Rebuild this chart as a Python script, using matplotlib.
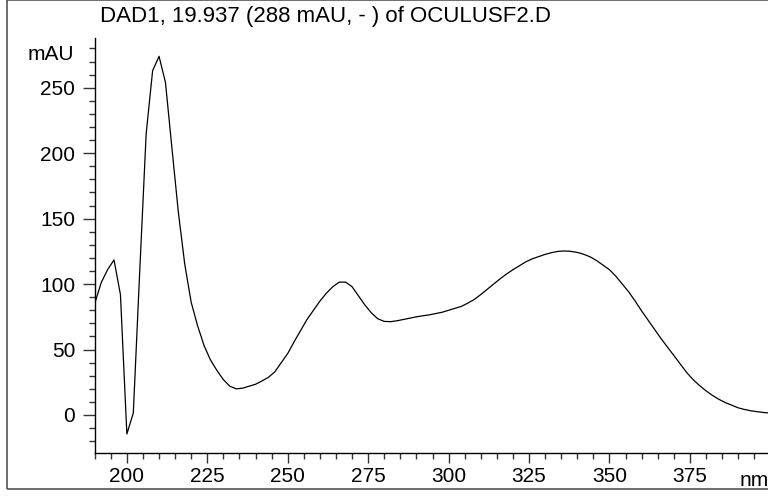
import matplotlib
matplotlib.use('Agg')
import matplotlib.pyplot as plt
from matplotlib.patches import Rectangle
from matplotlib.ticker import MultipleLocator

plt.rcParams['font.family'] = ['Liberation Sans', 'DejaVu Sans']

# Spectre UV du pic à 19.937 min
wavelength = [190, 192, 194, 196, 198, 200, 202, 204, 206, 208, 210, 212, 214, 216, 218,
              220, 222, 224, 226, 228, 230, 232, 234, 236, 238, 240, 242, 244, 246, 248,
              250, 252, 254, 256, 258, 260, 262, 264, 266, 268, 270, 272, 274, 276, 278,
              280, 282, 284, 286, 288, 290, 292, 294, 296, 298, 300, 302, 304, 306, 308,
              310, 312, 314, 316, 318, 320, 322, 324, 326, 328, 330, 332, 334, 336, 338,
              340, 342, 344, 346, 348, 350, 352, 354, 356, 358, 360, 362, 364, 366, 368,
              370, 372, 374, 376, 378, 380, 382, 384, 386, 388, 390, 392, 394, 396, 398, 400]
absorbance = [85, 101, 111, 118.5, 92, -14.5, 1.5, 110, 215, 263, 274, 254, 204, 155, 115,
              86, 68, 53, 42, 34, 27, 22, 20, 20.5, 22, 23.5, 26, 28.8, 33, 40,
              47, 56, 64.5, 73, 80, 87, 93, 98, 101.5, 101.5, 98, 91, 84, 78, 73.5,
              71.5, 71.3, 72, 73, 74, 75, 75.8, 76.5, 77.5, 78.5, 80, 81.5, 83, 85.5, 88.3,
              92, 96, 100, 104, 107.7, 111, 114, 117, 119.3, 121, 122.7, 124, 125, 125.3, 125,
              124.2, 122.8, 120.8, 118, 114.5, 111, 106, 100, 94, 87, 79.5, 72.5, 65.5, 58.5, 52,
              45.5, 39, 32.5, 27, 22.5, 18.5, 15, 12, 9.5, 7.5, 5.5, 4.2, 3.2, 2.5, 1.9, 1.5]

title = 'DAD1, 19.937 (288 mAU, - ) of OCULUSF2.D'

fig = plt.figure(figsize=(7.68, 4.97), dpi=100)
ax = fig.add_axes([94.7 / 768, 1 - 452.7 / 497, 675.6 / 768, 414.7 / 497])

ax.plot(wavelength, absorbance, color='black', lw=0.9)

ax.set_xlim(190, 400)
ax.set_ylim(-28.8, 288)

ax.spines['top'].set_visible(False)
ax.spines['right'].set_visible(False)
for s in ('left', 'bottom'):
    ax.spines[s].set_linewidth(1.0)
    ax.spines[s].set_color('black')

ax.xaxis.set_major_locator(MultipleLocator(25))
ax.xaxis.set_minor_locator(MultipleLocator(5))
ax.yaxis.set_major_locator(MultipleLocator(50))
ax.yaxis.set_minor_locator(MultipleLocator(10))

ax.tick_params(axis='x', which='major', length=7.5, width=1.0, color='#333333',
               labelsize=15, pad=3)
ax.tick_params(axis='x', which='minor', length=4, width=1.0, color='#333333')
ax.tick_params(axis='y', which='major', length=9, width=1.0, color='#333333',
               labelsize=15, pad=5)
ax.tick_params(axis='y', which='minor', length=4.5, width=1.0, color='#333333')

xt = [200, 225, 250, 275, 300, 325, 350, 375]
ax.set_xticks(xt)
ax.set_xticklabels([str(v) for v in xt])
yt = [0, 50, 100, 150, 200, 250]
ax.set_yticks(yt)
ax.set_yticklabels([str(v) for v in yt])

# unités et titre
fig.text(74 / 768, 1 - 60 / 497, 'mAU', fontsize=15, ha='right', va='baseline')
fig.text(740 / 768, 1 - 486 / 497, 'nm', fontsize=15, ha='left', va='baseline')
fig.text(100 / 768, 1 - 21.7 / 497, title, fontsize=16, ha='left', va='baseline')

# cadre extérieur
fig.patches.append(Rectangle((7.3 / 768, 1 - 489.3 / 497), 1.05, 489.3 / 497 - 0.001,
                             transform=fig.transFigure, fill=False,
                             edgecolor='#555555', lw=1.2))

plt.savefig('out.png', dpi=100)
